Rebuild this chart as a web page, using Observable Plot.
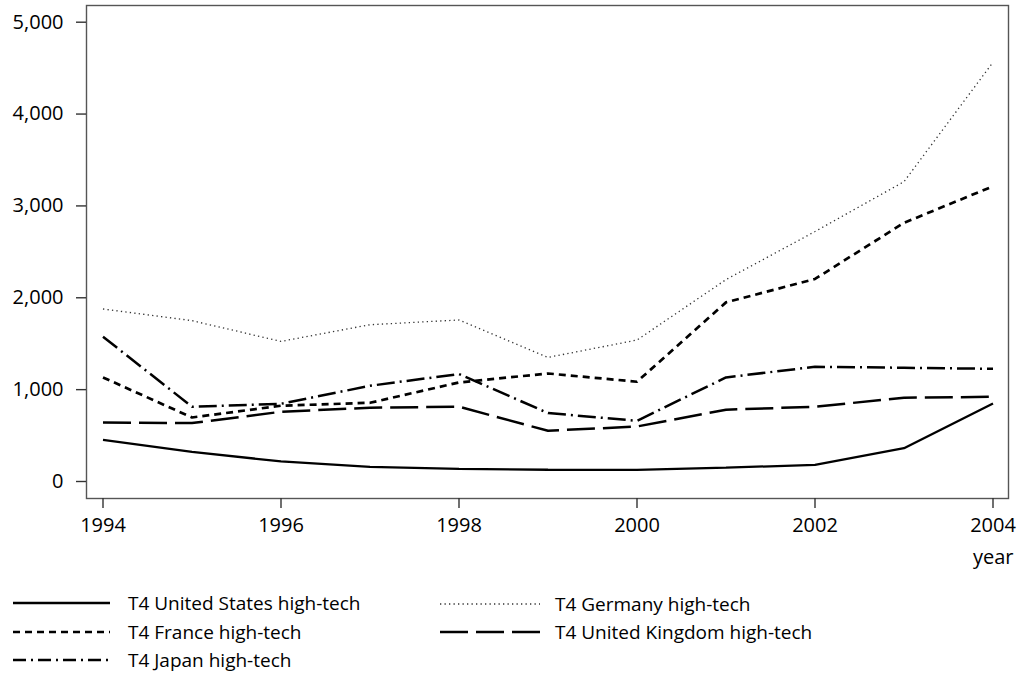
<!DOCTYPE html>
<html>
<head>
<meta charset="utf-8">
<script src="https://cdn.jsdelivr.net/npm/d3@7"></script>
<script src="https://cdn.jsdelivr.net/npm/@observablehq/plot@0.6"></script>
<style>
  html, body { margin: 0; padding: 0; background: #fff; }
  #wrap { position: relative; width: 1023px; height: 687px; font-family: "Open Sans", sans-serif; }
  .leg { position: absolute; display: flex; align-items: center; font-size: 19px; color: #000; white-space: nowrap; }
  .leg svg { display: block; }
</style>
</head>
<body>
<div id="wrap"><div id="chart"></div></div>
<script>
const years = [1994, 1995, 1996, 1997, 1998, 1999, 2000, 2001, 2002, 2003, 2004];
const usHighTech      = [454, 323, 218, 160, 137, 128, 127, 150, 182, 363, 850];
const franceHighTech  = [1133, 697, 825, 857, 1078, 1176, 1086, 1950, 2205, 2816, 3214];
const germanyHighTech = [1878, 1751, 1525, 1707, 1758, 1351, 1540, 2198, 2721, 3264, 4564];
const japanHighTech   = [1576, 814, 846, 1042, 1170, 745, 661, 1133, 1249, 1238, 1227];
const ukHighTech      = [643, 636, 759, 803, 814, 552, 599, 781, 814, 912, 922];
const yTicks = [0, 1000, 2000, 3000, 4000, 5000];
const xTicks = [1994, 1996, 1998, 2000, 2002, 2004];
const xLabel = "year";
const seriesNames = [
  "T4 United States high-tech",
  "T4 France high-tech",
  "T4 Japan high-tech",
  "T4 Germany high-tech",
  "T4 United Kingdom high-tech"
];

const styles = {
  "T4 United States high-tech": {values: usHighTech, dash: null, width: 2.3, color: "#000"},
  "T4 France high-tech": {values: franceHighTech, dash: "7,5", width: 2.7, color: "#000"},
  "T4 Japan high-tech": {values: japanHighTech, dash: "18,5,2,5", width: 2.5, color: "#000"},
  "T4 Germany high-tech": {values: germanyHighTech, dash: "1.3,3.2", width: 1.3, color: "#333"},
  "T4 United Kingdom high-tech": {values: ukHighTech, dash: "28,8", width: 2.5, color: "#000"}
};

const lineMarks = seriesNames.map(name => {
  const s = styles[name];
  const data = years.map((y, i) => ({year: y, value: s.values[i]}));
  return Plot.lineY(data, {x: "year", y: "value", stroke: s.color, strokeWidth: s.width,
    strokeDasharray: s.dash ?? undefined, strokeLinejoin: "miter", strokeLinecap: "butt"});
});

const chart = Plot.plot({
  width: 1023,
  height: 578,
  marginLeft: 86,
  marginRight: 15,
  marginTop: 5,
  marginBottom: 80,
  style: {fontFamily: "Open Sans, sans-serif", fontSize: "20px", color: "#000", background: "#fff"},
  x: {domain: [1994, 2004], insetLeft: 16.5, insetRight: 15.5},
  y: {domain: [0, 5000], insetTop: 16.7, insetBottom: 17},
  marks: [
    Plot.frame({stroke: "#555", strokeWidth: 1.4}),
    Plot.axisY({ticks: yTicks, tickSize: 10, tickPadding: 13, tickFormat: d3.format(","), label: null, stroke: "#333", strokeWidth: 1.4, fontSize: 20}),
    Plot.axisX({ticks: xTicks, tickSize: 10, tickPadding: 9, tickFormat: d => String(d), label: null, stroke: "#333", strokeWidth: 1.4, fontSize: 20}),
    Plot.text([xLabel], {text: d => d, frameAnchor: "bottom-right", textAnchor: "end", dx: 5, dy: 65, fontSize: 20, fill: "#000"}),
    ...lineMarks
  ]
});
document.getElementById("chart").appendChild(chart);

// legend (HTML, below the SVG)
const legendPos = [
  {name: "T4 United States high-tech", left: 13, top: 603},
  {name: "T4 France high-tech", left: 13, top: 632},
  {name: "T4 Japan high-tech", left: 13, top: 660},
  {name: "T4 Germany high-tech", left: 440, top: 604},
  {name: "T4 United Kingdom high-tech", left: 440, top: 632}
];
const wrap = document.getElementById("wrap");
legendPos.forEach(p => {
  const s = styles[p.name];
  const div = document.createElement("div");
  div.className = "leg";
  div.style.left = p.left + "px";
  div.style.top = (p.top - 14) + "px";
  div.style.height = "28px";
  const lw = p.left < 200 ? 97 : 100;
  const gap = p.left < 200 ? 18 : 15;
  const dash = p.name === "T4 Japan high-tech" ? "13,5,2,5" : s.dash;
  div.innerHTML = `<svg width="${lw}" height="28"><line x1="0" x2="${lw}" y1="14" y2="14" stroke="${s.color}" stroke-width="${s.width}" ${dash ? `stroke-dasharray="${dash}"` : ""}/></svg><span style="margin-left:${gap}px">${p.name}</span>`;
  wrap.appendChild(div);
});
</script>
</body>
</html>
